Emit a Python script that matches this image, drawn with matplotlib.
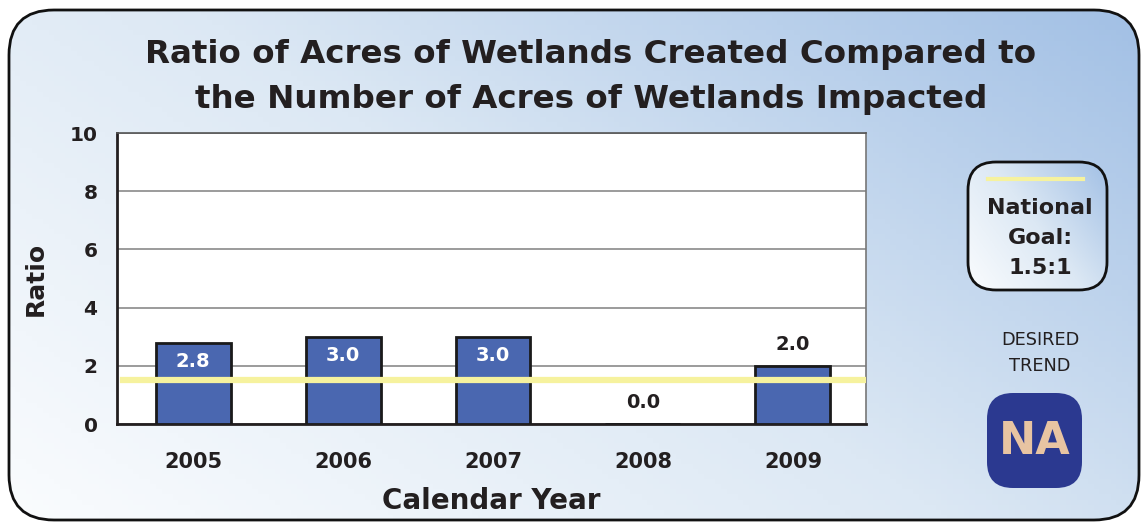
import numpy as np
import matplotlib
matplotlib.use('Agg')
import matplotlib.pyplot as plt
from matplotlib.patches import FancyBboxPatch
from matplotlib.colors import LinearSegmentedColormap

# Data
years = ['2005', '2006', '2007', '2008', '2009']
ratios = [2.8, 3.0, 3.0, 0.0, 2.0]
labels = ['2.8', '3.0', '3.0', '0.0', '2.0']
national_goal = 1.5
yticks = [0, 2, 4, 6, 8, 10]

W, H = 1145, 527
FONT = 'DejaVu Sans'
bar_color = '#4a67b0'
goal_color = '#f6f29e'
bg_cmap = LinearSegmentedColormap.from_list(
    'bg', ['#fafcfe', '#dce8f4', '#a2c0e5'])

fig = plt.figure(figsize=(W / 100, H / 100), dpi=100)
fig.patch.set_facecolor('white')

# Background panel in pixel coordinates
bg = fig.add_axes([0, 0, 1, 1])
bg.set_xlim(0, W)
bg.set_ylim(H, 0)
bg.axis('off')

def gradient_box(ax, x0, y0, w, h, rad, lw):
    xx, yy = np.meshgrid(np.linspace(0, 1, 200), np.linspace(0, 1, 100))
    t = 0.6 * xx + 0.4 * (1 - yy)
    box = FancyBboxPatch((x0, y0), w, h, boxstyle='round,pad=0,rounding_size=%d' % rad,
                         facecolor='none', edgecolor='#111111', lw=lw, zorder=3)
    ax.add_patch(box)
    im = ax.imshow(t, cmap=bg_cmap, extent=(x0, x0 + w, y0 + h, y0),
                   origin='upper', aspect='auto', zorder=1, vmin=0, vmax=1)
    im.set_clip_path(box)
    return box

gradient_box(bg, 9, 10, 1130, 510, 45, 2)
bg.set_xlim(0, W)
bg.set_ylim(H, 0)

# Legend box
gradient_box(bg, 968, 162, 139, 128, 28, 2)
bg.plot([988, 1083], [179, 179], color=goal_color, lw=3, zorder=4)
bg.text(1040, 238, 'National\nGoal:\n1.5:1', ha='center', va='center',
        fontsize=16, fontweight='bold', family=FONT, color='#231f20',
        linespacing=1.65, zorder=5)
bg.text(1040, 353, 'DESIRED\nTREND', ha='center', va='center',
        fontsize=12.8, family=FONT, color='#231f20', linespacing=1.55, zorder=5)
na = FancyBboxPatch((987, 393), 95, 95, boxstyle='round,pad=0,rounding_size=26',
                    facecolor='#2b3990', edgecolor='none', zorder=4)
bg.add_patch(na)
bg.text(1035, 442, 'NA', ha='center', va='center', fontsize=32,
        fontweight='bold', family=FONT, color='#e8c4a2', zorder=5)

# Title
fig.text(0.516, 1 - 77 / H, 'Ratio of Acres of Wetlands Created Compared to\n'
         'the Number of Acres of Wetlands Impacted', ha='center', va='center',
         fontsize=23.4, fontweight='bold', family=FONT, color='#231f20',
         linespacing=1.6)

# Main chart
ax = fig.add_axes([117 / W, 1 - 424 / H, 749 / W, 291 / H])
ax.set_facecolor('white')
x = np.arange(len(years))
ax.bar(x, ratios, width=0.5, color=bar_color, edgecolor='#1a1a1a', lw=2, zorder=3)
ax.axhline(national_goal, xmin=0.008, xmax=1, color=goal_color, lw=4.5, zorder=4)
for xi, v, lab in zip(x, ratios, labels):
    if v > 2.5:
        ax.annotate(lab, (xi, v), xytext=(0, -13.5), textcoords='offset points',
                    ha='center', va='center', color='white', fontsize=14,
                    fontweight='bold', family=FONT, zorder=5)
    else:
        ax.annotate(lab, (xi, v), xytext=(0, 15.5), textcoords='offset points',
                    ha='center', va='center', color='#231f20', fontsize=14,
                    fontweight='bold', family=FONT, zorder=5)

ax.set_xlim(-0.507, 4.487)
ax.set_ylim(0, 10)
ax.set_yticks(yticks)
ax.set_xticks(x)
ax.set_xticklabels(years)
ax.grid(axis='y', color='#8a8a8a', lw=1.2, zorder=1)
ax.tick_params(length=0, labelsize=15, labelcolor='#231f20')
ax.tick_params(axis='y', labelsize=14.5, pad=14)
ax.tick_params(axis='x', pad=20)
for lab in ax.get_xticklabels() + ax.get_yticklabels():
    lab.set_fontweight('bold')
    lab.set_family(FONT)
for side in ['left', 'bottom']:
    ax.spines[side].set_color('#231f20')
    ax.spines[side].set_linewidth(2)
ax.spines['top'].set_color('#555555')
ax.spines['top'].set_linewidth(1.2)
ax.spines['right'].set_color('#777777')
ax.spines['right'].set_linewidth(1.2)

ax.set_xlabel('Calendar Year', fontsize=20, fontweight='bold', family=FONT,
              color='#231f20', labelpad=11)
ax.set_ylabel('Ratio', fontsize=18, fontweight='bold', family=FONT,
              color='#231f20', labelpad=16)

fig.savefig('out.png', dpi=100)
